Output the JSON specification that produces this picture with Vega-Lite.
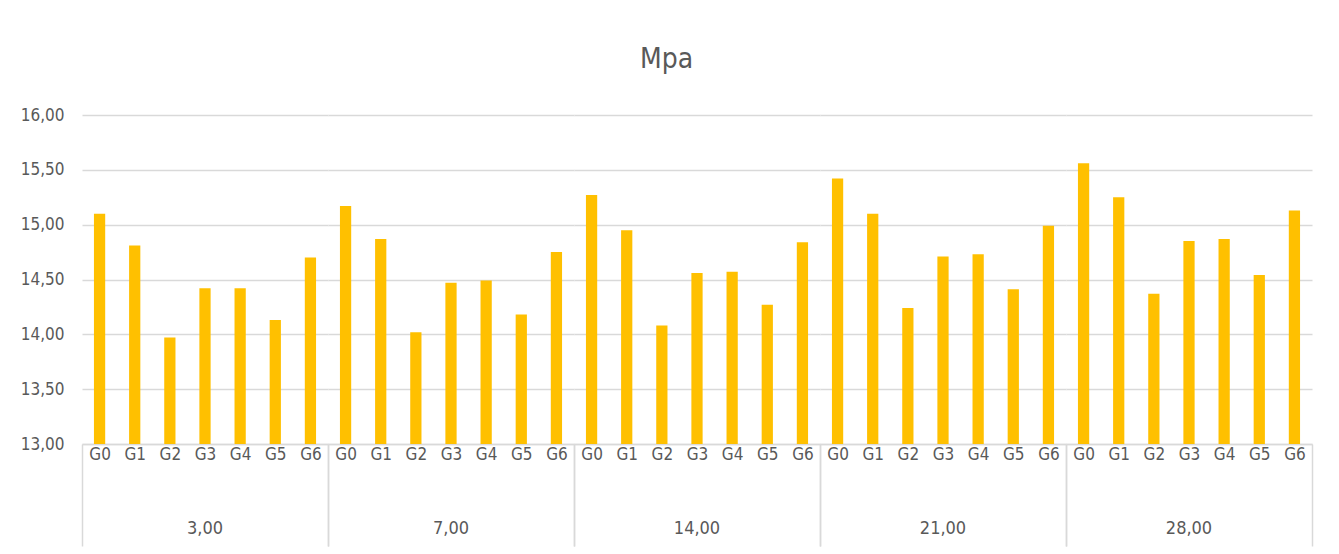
{
  "$schema": "https://vega.github.io/schema/vega-lite/v6.json",
  "background": "white",
  "padding": {"left": 20, "top": 46, "right": 28, "bottom": 5},
  "title": {"text": "Mpa", "fontSize": 28, "font": "DejaVu Sans Condensed, sans-serif", "fontWeight": "normal", "color": "#595959", "anchor": "middle", "frame": "bounds", "offset": 32},
  "data": {"values": [
    {"dia": "3,00", "grupo": "G0", "mpa": 15.10},
    {"dia": "3,00", "grupo": "G1", "mpa": 14.81},
    {"dia": "3,00", "grupo": "G2", "mpa": 13.97},
    {"dia": "3,00", "grupo": "G3", "mpa": 14.42},
    {"dia": "3,00", "grupo": "G4", "mpa": 14.42},
    {"dia": "3,00", "grupo": "G5", "mpa": 14.13},
    {"dia": "3,00", "grupo": "G6", "mpa": 14.70},
    {"dia": "7,00", "grupo": "G0", "mpa": 15.17},
    {"dia": "7,00", "grupo": "G1", "mpa": 14.87},
    {"dia": "7,00", "grupo": "G2", "mpa": 14.02},
    {"dia": "7,00", "grupo": "G3", "mpa": 14.47},
    {"dia": "7,00", "grupo": "G4", "mpa": 14.49},
    {"dia": "7,00", "grupo": "G5", "mpa": 14.18},
    {"dia": "7,00", "grupo": "G6", "mpa": 14.75},
    {"dia": "14,00", "grupo": "G0", "mpa": 15.27},
    {"dia": "14,00", "grupo": "G1", "mpa": 14.95},
    {"dia": "14,00", "grupo": "G2", "mpa": 14.08},
    {"dia": "14,00", "grupo": "G3", "mpa": 14.56},
    {"dia": "14,00", "grupo": "G4", "mpa": 14.57},
    {"dia": "14,00", "grupo": "G5", "mpa": 14.27},
    {"dia": "14,00", "grupo": "G6", "mpa": 14.84},
    {"dia": "21,00", "grupo": "G0", "mpa": 15.42},
    {"dia": "21,00", "grupo": "G1", "mpa": 15.10},
    {"dia": "21,00", "grupo": "G2", "mpa": 14.24},
    {"dia": "21,00", "grupo": "G3", "mpa": 14.71},
    {"dia": "21,00", "grupo": "G4", "mpa": 14.73},
    {"dia": "21,00", "grupo": "G5", "mpa": 14.41},
    {"dia": "21,00", "grupo": "G6", "mpa": 14.99},
    {"dia": "28,00", "grupo": "G0", "mpa": 15.56},
    {"dia": "28,00", "grupo": "G1", "mpa": 15.25},
    {"dia": "28,00", "grupo": "G2", "mpa": 14.37},
    {"dia": "28,00", "grupo": "G3", "mpa": 14.85},
    {"dia": "28,00", "grupo": "G4", "mpa": 14.87},
    {"dia": "28,00", "grupo": "G5", "mpa": 14.54},
    {"dia": "28,00", "grupo": "G6", "mpa": 15.13}
  ]},
  "spacing": 0,
  "facet": {
    "column": {
      "field": "dia", "type": "ordinal",
      "sort": ["3,00", "7,00", "14,00", "21,00", "28,00"],
      "header": {"title": null, "labelOrient": "bottom", "labelFontSize": 18, "labelColor": "#595959", "labelFont": "DejaVu Sans Condensed, sans-serif", "labelPadding": -27}
    }
  },
  "spec": {
    "width": 246,
    "height": 329,
    "mark": {"type": "bar", "color": "#FFC000", "width": {"band": 0.32}, "clip": true},
    "encoding": {
      "x": {
        "field": "grupo", "type": "nominal",
        "scale": {"paddingInner": 0, "paddingOuter": 0},
        "axis": {
          "title": null, "labelAngle": 0,
          "domainColor": "#d9d9d9", "domainWidth": 1.5,
          "tickBand": "extent", "tickColor": "#d9d9d9", "tickWidth": 1.5, "tickSize": 102,
          "tickOpacity": {"condition": {"test": "datum.value === 'G6' || !!datum.extra", "value": 1}, "value": 0},
          "labelPadding": -100, "labelFontSize": 17, "labelColor": "#595959",
          "labelFont": "DejaVu Sans Condensed, sans-serif"
        }
      },
      "y": {
        "field": "mpa", "type": "quantitative",
        "scale": {"domain": [13, 16], "zero": false, "nice": false},
        "axis": {
          "title": null, "values": [13, 13.5, 14, 14.5, 15, 15.5, 16],
          "labelExpr": "replace(format(datum.value, '.2f'), '.', ',')",
          "domain": false, "ticks": false, "labelPadding": 18,
          "labelFontSize": 17, "labelColor": "#595959",
          "labelFont": "DejaVu Sans Condensed, sans-serif",
          "gridColor": "#d9d9d9", "gridWidth": 1.5
        }
      }
    }
  },
  "config": {"view": {"stroke": null}}
}
